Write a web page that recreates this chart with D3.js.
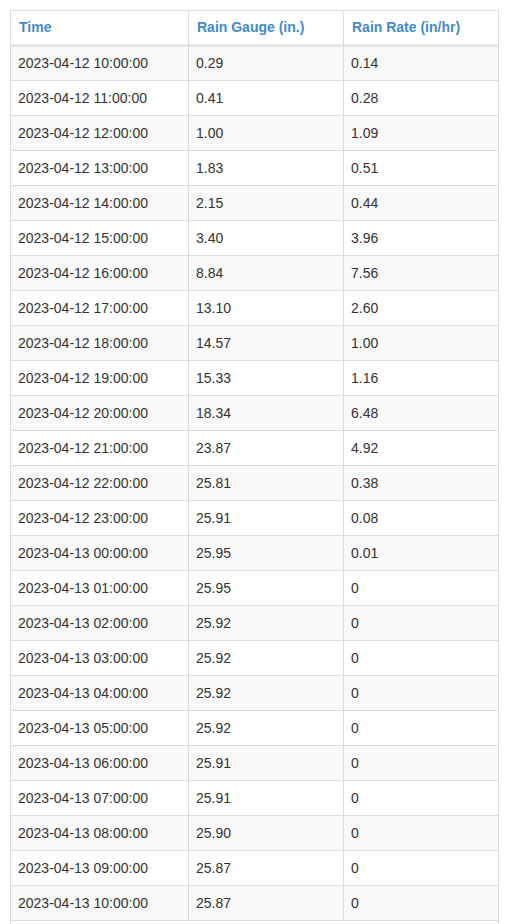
<!DOCTYPE html>
<html><head><meta charset="utf-8">
<script src="https://cdn.jsdelivr.net/npm/d3@7"></script>
<style>body{margin:0;background:#fff}svg{display:block}</style>
</head><body>
<svg id="c" width="507" height="924"></svg>
<script>
const headers = ["Time", "Rain Gauge (in.)", "Rain Rate (in/hr)"];
const times = ["2023-04-12 10:00:00","2023-04-12 11:00:00","2023-04-12 12:00:00","2023-04-12 13:00:00","2023-04-12 14:00:00","2023-04-12 15:00:00","2023-04-12 16:00:00","2023-04-12 17:00:00","2023-04-12 18:00:00","2023-04-12 19:00:00","2023-04-12 20:00:00","2023-04-12 21:00:00","2023-04-12 22:00:00","2023-04-12 23:00:00","2023-04-13 00:00:00","2023-04-13 01:00:00","2023-04-13 02:00:00","2023-04-13 03:00:00","2023-04-13 04:00:00","2023-04-13 05:00:00","2023-04-13 06:00:00","2023-04-13 07:00:00","2023-04-13 08:00:00","2023-04-13 09:00:00","2023-04-13 10:00:00"];
const gauge = ["0.29","0.41","1.00","1.83","2.15","3.40","8.84","13.10","14.57","15.33","18.34","23.87","25.81","25.91","25.95","25.95","25.92","25.92","25.92","25.92","25.91","25.91","25.90","25.87","25.87"];
const rate = ["0.14","0.28","1.09","0.51","0.44","3.96","7.56","2.60","1.00","1.16","6.48","4.92","0.38","0.08","0.01","0","0","0","0","0","0","0","0","0","0"];

const svg = d3.select("#c");
const rowKeys = ["h", ...times.map((_, i) => "r" + i), "f"];
const y = d3.scaleBand().domain(rowKeys).range([10, 10 + 35 * rowKeys.length]);
const colEdges = [10, 188, 343, 498];
const x = d3.scaleOrdinal().domain([0, 1, 2]).range(colEdges.slice(0, 3));
const border = "#dddddd";

const data = times.map((t, i) => ({key: "r" + i, cells: [t, gauge[i], rate[i]], i}));

// striped backgrounds
svg.selectAll("rect.bg").data(data.filter(d => d.i % 2 === 0)).join("rect")
  .attr("x", colEdges[0]).attr("width", colEdges[3] - colEdges[0])
  .attr("y", d => y(d.key)).attr("height", y.bandwidth()).attr("fill", "#f9f9f9");

// horizontal lines
svg.selectAll("line.h").data(rowKeys).join("line")
  .attr("x1", colEdges[0]).attr("x2", colEdges[3])
  .attr("y1", d => y(d) + 0.5).attr("y2", d => y(d) + 0.5)
  .attr("stroke", border).attr("stroke-width", (d) => d === "r0" ? 2 : 1);
// vertical lines
const yEnd = y("f") + 35;
svg.selectAll("line.v").data(colEdges).join("line")
  .attr("x1", d => d + 0.5).attr("x2", d => d + 0.5)
  .attr("y1", 10).attr("y2", (d, i) => (i === 0 || i === 3) ? yEnd : y("f"))
  .attr("stroke", border);

// header
svg.selectAll("text.hd").data(headers).join("text")
  .attr("x", (d, i) => x(i) + 9).attr("y", y("h") + 22)
  .attr("font-family", "Liberation Sans, Arial, sans-serif").attr("font-size", 14)
  .attr("font-weight", "bold").attr("fill", "#428bca").text(d => d);

// cells
const rows = svg.selectAll("g.row").data(data).join("g");
rows.selectAll("text").data(d => d.cells.map((c, j) => ({c, j, key: d.key}))).join("text")
  .attr("x", d => x(d.j) + 8).attr("y", d => y(d.key) + 23)
  .attr("font-family", "Liberation Sans, Arial, sans-serif").attr("font-size", 14)
  .attr("fill", "#333").text(d => d.c);
</script>
</body></html>
